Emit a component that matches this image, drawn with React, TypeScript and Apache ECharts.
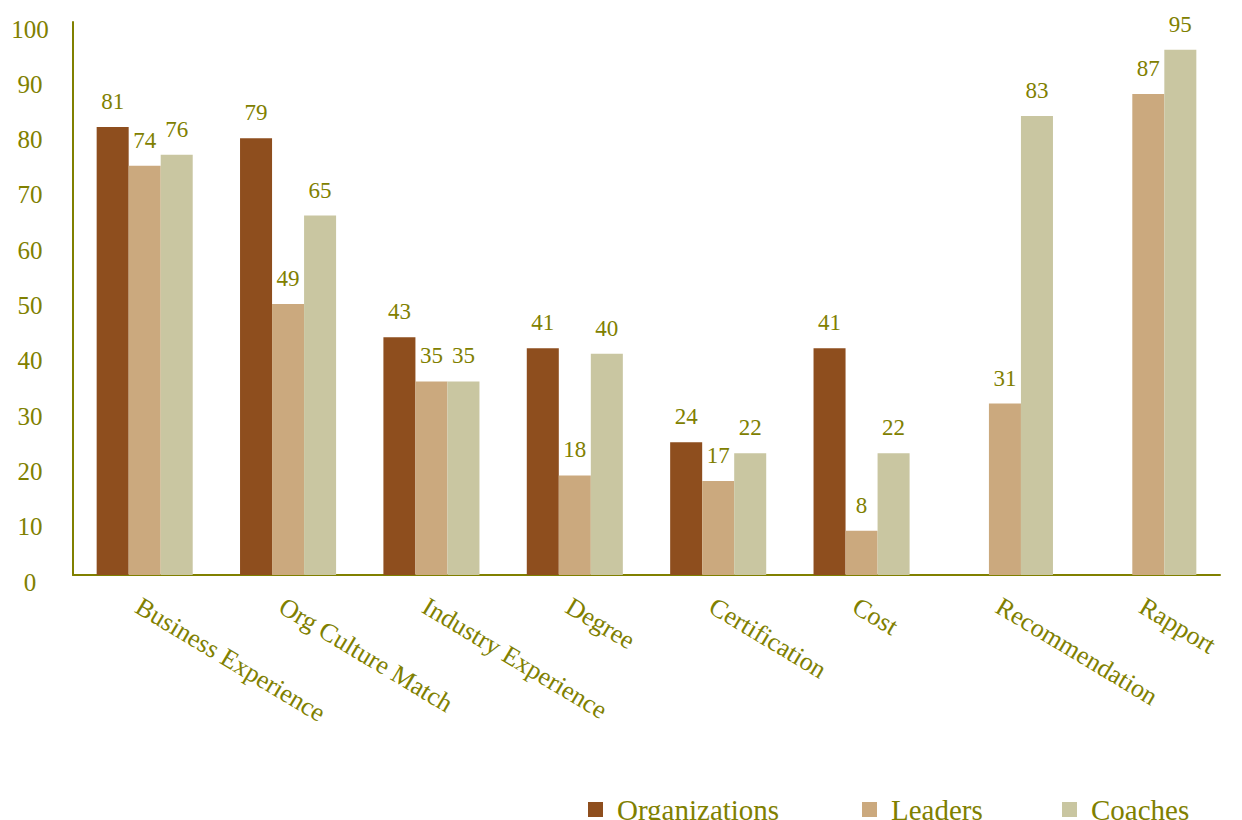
import React, { useEffect, useRef } from "react";
import * as echarts from "echarts";

const categories = [
  "Business Experience",
  "Org Culture Match",
  "Industry Experience",
  "Degree",
  "Certification",
  "Cost",
  "Recommendation",
  "Rapport",
];
const organizations = [81, 79, 43, 41, 24, 41, null, null];
const leaders = [74, 49, 35, 18, 17, 8, 31, 87];
const coaches = [76, 65, 35, 40, 22, 22, 83, 95];
const seriesNames = ["Organizations", "Leaders", "Coaches"];
const caption = "Figure 8. Selection criteria in hiring coaches";

const OLIVE = "#808000";
const FONT = "'Liberation Serif', 'Times New Roman', serif";
const COLORS = ["#8E4E1E", "#CBA97E", "#C9C6A1"];

export default function App() {
  const ref = useRef<HTMLDivElement>(null);
  useEffect(() => {
    document.body.style.margin = "0";
    const chart = echarts.init(ref.current!, null, { renderer: "svg" });
    const values = [organizations, leaders, coaches];
    const legendLeft = [583, 857, 1057];
    chart.setOption({
      animation: false,
      backgroundColor: "#ffffff",
      textStyle: { fontFamily: FONT },
      grid: { left: 73, right: 22, top: 22, bottom: 245 },
      legend: seriesNames.map((n, i) => ({
        data: [n],
        left: legendLeft[i],
        top: 790,
        icon: "rect",
        itemWidth: 15,
        itemHeight: 15,
        textStyle: {
          color: OLIVE,
          fontSize: 29,
          fontFamily: FONT,
          padding: [0, 0, 0, 9],
        },
      })),
      xAxis: {
        type: "category",
        data: categories,
        axisLine: { lineStyle: { color: OLIVE, width: 2 } },
        axisTick: { show: false },
        axisLabel: {
          rotate: -31,
          interval: 0,
          color: OLIVE,
          fontSize: 26,
          fontFamily: FONT,
          align: "left",
          verticalAlign: "top",
          margin: 18,
        },
      },
      yAxis: {
        type: "value",
        min: 0,
        max: 100,
        interval: 10,
        splitLine: { show: false },
        axisLine: { show: true, lineStyle: { color: OLIVE, width: 2 } },
        axisTick: { show: false },
        axisLabel: {
          color: OLIVE,
          fontSize: 25,
          fontFamily: FONT,
          align: "center",
          verticalAlign: "top",
          lineHeight: 14,
          margin: 43,
        },
      },
      graphic: [
        {
          type: "text",
          left: 53,
          top: 817,
          style: {
            text: caption,
            fill: "#5a6282",
            font: "bold 19px 'Liberation Serif', serif",
          },
        },
      ],
      series: seriesNames.map((n, i) => ({
        name: n,
        type: "bar",
        data: values[i],
        barGap: "0%",
        barCategoryGap: "33%",
        itemStyle: { color: COLORS[i] },
        label: {
          show: true,
          position: "top",
          distance: 14,
          color: OLIVE,
          fontSize: 23,
          fontFamily: FONT,
        },
      })),
    });
    return () => chart.dispose();
  }, []);
  return (
    <div
      ref={ref}
      style={{ position: "fixed", left: 0, top: 0, width: 1242, height: 820 }}
    />
  );
}
